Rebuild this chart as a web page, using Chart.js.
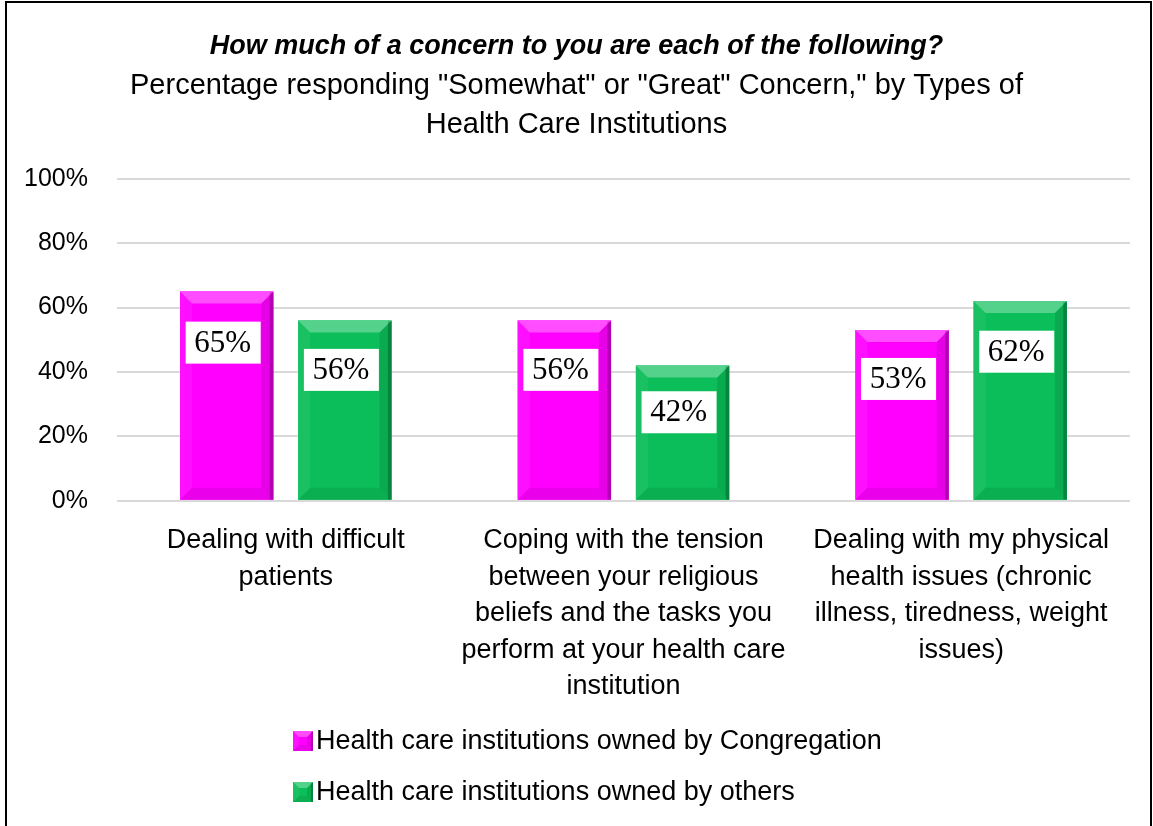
<!DOCTYPE html>
<html>
<head>
<meta charset="utf-8">
<script src="https://cdn.jsdelivr.net/npm/chart.js@4.4.1/dist/chart.umd.min.js"></script>
<style>
  html, body { margin: 0; padding: 0; background: #fff; overflow: hidden; }
  #wrap { position: absolute; left: 0; top: 0; width: 1153px; height: 826px; }
  #frame { position: absolute; left: 5px; top: 1px; width: 1143px; height: 840px;
           border: 2px solid #000; pointer-events: none; }
</style>
</head>
<body>
<div id="wrap"><canvas id="chart" width="1153" height="826"></canvas></div>
<div id="frame"></div>
<script>
// Chart data
const categories = [
    ['Dealing with difficult', 'patients'],
    ['Coping with the tension', 'between your religious', 'beliefs and the tasks you', 'perform at your health care', 'institution'],
    ['Dealing with my physical', 'health issues (chronic', 'illness, tiredness, weight', 'issues)']
];
const seriesNames = ['Health care institutions owned by Congregation', 'Health care institutions owned by others'];
const congregationValues = [65, 56, 53];
const othersValues = [56, 42, 62];
const yTicks = [0, 20, 40, 60, 80, 100];

const seriesColors = ['#FF00FF', '#0BBE5A'];
const sansFont = "'Liberation Sans', Arial, sans-serif";

// Draw a bevelled rectangle (Excel-style "bevel" bar)
function drawBevel(ctx, L, T, R, B, color, d) {
    ctx.save();
    ctx.fillStyle = color;
    ctx.fillRect(L, T, R - L, B - T);
    d = Math.min(d, (R - L) / 2, (B - T) / 2);
    const shade = (pts, fill) => {
        ctx.beginPath();
        ctx.moveTo(pts[0][0], pts[0][1]);
        for (let i = 1; i < pts.length; i++) ctx.lineTo(pts[i][0], pts[i][1]);
        ctx.closePath();
        ctx.fillStyle = fill;
        ctx.fill();
    };
    // top
    shade([[L, T], [R, T], [R - d, T + d], [L + d, T + d]], 'rgba(255,255,255,0.3)');
    // left
    shade([[L, T], [L + d, T + d], [L + d, B - d], [L, B]], 'rgba(255,255,255,0.06)');
    // right
    shade([[R, T], [R, B], [R - d, B - d], [R - d, T + d]], 'rgba(0,0,0,0.10)');
    // bottom
    shade([[L, B], [R, B], [R - d, B - d], [L + d, B - d]], 'rgba(0,0,0,0.08)');
    // thin dark right edge
    ctx.fillStyle = 'rgba(0,0,0,0.22)';
    ctx.fillRect(R - Math.max(2, d * 0.3), T + 1, Math.max(2, d * 0.3), B - T - 1);
    ctx.restore();
}

const bevelBars = {
    id: 'bevelBars',
    afterDatasetsDraw(chart) {
        const ctx = chart.ctx;
        chart.data.datasets.forEach((ds, di) => {
            chart.getDatasetMeta(di).data.forEach(bar => {
                const p = bar.getProps(['x', 'y', 'base', 'width'], true);
                drawBevel(ctx, p.x - p.width / 2, p.y, p.x + p.width / 2, p.base, ds.backgroundColor, 12);
            });
        });
    }
};

// White boxed value labels inside the bars
const valueLabels = {
    id: 'valueLabels',
    afterDatasetsDraw(chart) {
        const ctx = chart.ctx;
        const yScale = chart.scales.y;
        ctx.save();
        ctx.font = "31px 'Liberation Serif', 'Times New Roman', serif";
        ctx.textAlign = 'center';
        ctx.textBaseline = 'middle';
        chart.data.datasets.forEach((ds, di) => {
            chart.getDatasetMeta(di).data.forEach((bar, i) => {
                const v = ds.data[i];
                const cy = yScale.getPixelForValue(0.94 * v - 12);
                const cx = bar.x - 4;
                ctx.fillStyle = '#fff';
                ctx.fillRect(cx - 37, cy - 21, 75, 42);
                ctx.fillStyle = '#000';
                ctx.fillText(v + '%', cx, cy + 1);
            });
        });
        ctx.restore();
    }
};

// Vertical legend below the axis labels
const stackedLegend = {
    id: 'stackedLegend',
    afterDraw(chart) {
        const ctx = chart.ctx;
        ctx.save();
        ctx.font = '27px ' + sansFont;
        ctx.textBaseline = 'middle';
        ctx.textAlign = 'left';
        chart.data.datasets.forEach((ds, di) => {
            const y = 741 + di * 51;
            drawBevel(ctx, 293, y - 10, 313, y + 10, ds.backgroundColor, 6);
            ctx.fillStyle = '#000';
            ctx.fillText(ds.label, 316, y + 1);
        });
        ctx.restore();
    }
};

// Centre the title block on the whole canvas rather than the padded layout
const centerTitles = {
    id: 'centerTitles',
    afterLayout(chart) {
        const shift = (chart.width / 2) - (chart.chartArea.left + chart.chartArea.right) / 2 + 20;
        chart.boxes.forEach(b => {
            if (b.position === 'top' && !b.axis) {
                const mid = (b.left + b.right) / 2;
                const d = chart.width / 2 - mid;
                b.left += d;
                b.right += d;
            }
        });
    }
};

new Chart(document.getElementById('chart'), {
    type: 'bar',
    data: {
        labels: categories,
        datasets: [
            { label: seriesNames[0], data: congregationValues, backgroundColor: seriesColors[0] },
            { label: seriesNames[1], data: othersValues, backgroundColor: seriesColors[1] }
        ]
    },
    options: {
        responsive: false,
        animation: false,
        devicePixelRatio: 1,
        categoryPercentage: 0.7,
        barPercentage: 0.79,
        layout: { padding: { left: -5, right: 23, top: 16, bottom: 107 } },
        plugins: {
            legend: { display: false },
            tooltip: { enabled: false },
            title: {
                display: true,
                text: 'How much of a concern to you are each of the following?',
                color: '#000',
                font: { family: sansFont, size: 27, weight: 'bold', style: 'italic' },
                padding: { top: 14, bottom: 4 }
            },
            subtitle: {
                display: true,
                text: ['Percentage responding "Somewhat" or "Great" Concern," by Types of', 'Health Care Institutions'],
                color: '#000',
                font: { family: sansFont, size: 29, lineHeight: 1.35 },
                padding: { top: 0, bottom: 34 }
            }
        },
        scales: {
            x: {
                grid: { display: false },
                border: { display: false },
                ticks: {
                    color: '#000',
                    font: { family: sansFont, size: 27, lineHeight: 1.35 },
                    maxRotation: 0,
                    autoSkip: false,
                    padding: 14
                }
            },
            y: {
                min: 0,
                max: 100,
                afterBuildTicks: axis => { axis.ticks = yTicks.map(v => ({ value: v })); },
                grid: { color: '#D9D9D9', lineWidth: 2, drawTicks: false },
                border: { display: false },
                ticks: {
                    color: '#000',
                    font: { family: sansFont, size: 25 },
                    padding: 29,
                    callback: v => v + '%'
                }
            }
        }
    },
    plugins: [centerTitles, bevelBars, valueLabels, stackedLegend]
});
</script>
</body>
</html>
